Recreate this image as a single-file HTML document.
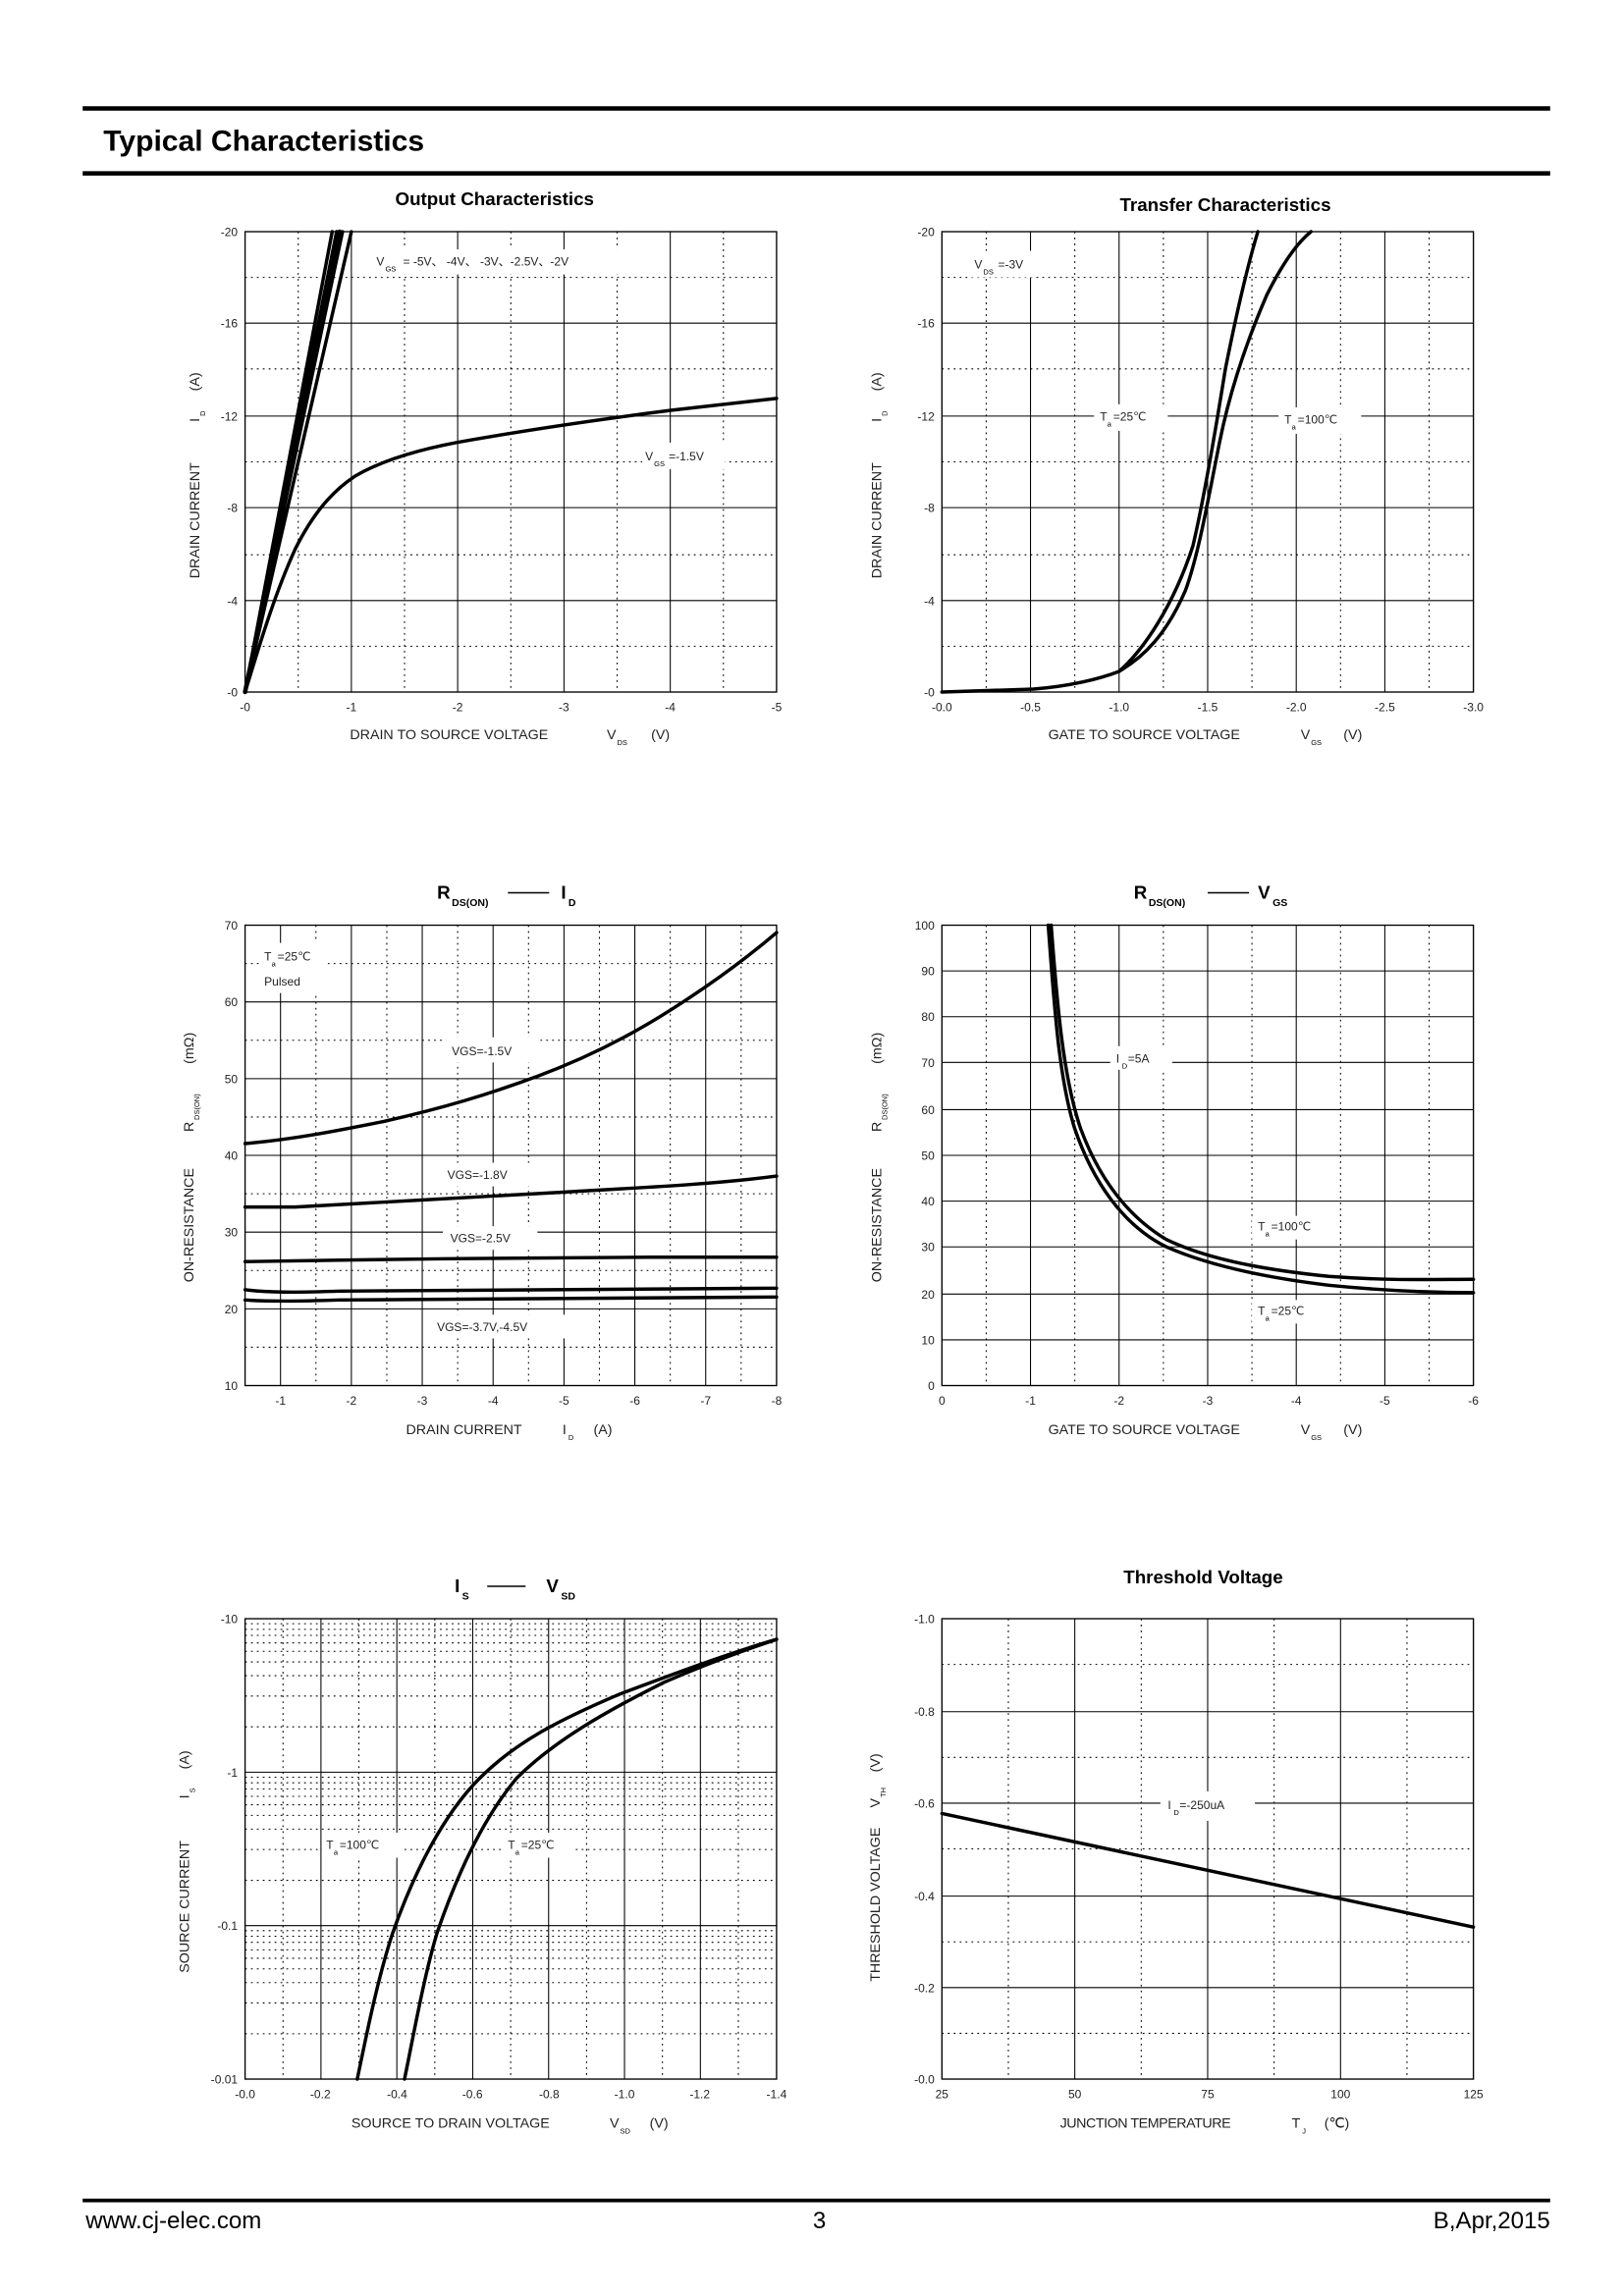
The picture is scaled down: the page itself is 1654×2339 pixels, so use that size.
<!DOCTYPE html>
<html><head><meta charset="utf-8"><style>
html,body{margin:0;padding:0;background:#fff;}
svg{display:block}
text{font-family:"Liberation Sans",Arial,sans-serif;}
.t{font-size:8px;fill:#222}
.a{font-size:9.5px;fill:#222}
.ti{font-size:12.5px;font-weight:bold;fill:#000}
.maj{stroke:#000;stroke-width:0.7;fill:none}
.min{stroke:#000;stroke-width:0.7;stroke-dasharray:1.2 2.8;fill:none}
.c{stroke:#000;stroke-width:2.3;fill:none;stroke-linejoin:round;stroke-linecap:round}
.box{stroke:#000;stroke-width:0.9;fill:none}
</style></head><body>
<svg width="1654" height="2339" viewBox="0 0 1100 1556" preserveAspectRatio="none" xmlns="http://www.w3.org/2000/svg">
<rect width="1100" height="1556" fill="#fff"/>
<!-- header -->
<rect x="56" y="72" width="994" height="3" fill="#000"/>
<text x="70" y="102" style="font-size:20px;font-weight:bold">Typical Characteristics</text>
<rect x="56" y="116" width="994" height="3" fill="#000"/>
<!-- footer -->
<rect x="56" y="1490" width="994" height="2.5" fill="#000"/>
<text x="58" y="1510" style="font-size:16px">www.cj-elec.com</text>
<text x="555" y="1510" style="font-size:16px" text-anchor="middle">3</text>
<text x="1050" y="1510" style="font-size:16px" text-anchor="end">B,Apr,2015</text>

<!-- ============ Chart 1 ============ -->
<g>
<text x="335" y="139" class="ti" text-anchor="middle">Output Characteristics</text>
<path class="min" d="M202,157V469M274,157V469M346,157V469M418,157V469M490,157V469M166,188H526M166,250H526M166,313H526M166,376H526M166,438H526"/>
<path class="maj" d="M238,157V469M310,157V469M382,157V469M454,157V469M166,219H526M166,282H526M166,344H526M166,407H526"/>
<rect x="166" y="157" width="360" height="312" class="box"/>
<g class="t" text-anchor="end"><text x="161" y="160">-20</text><text x="161" y="222">-16</text><text x="161" y="285">-12</text><text x="161" y="347">-8</text><text x="161" y="410">-4</text><text x="161" y="472">-0</text></g>
<g class="t" text-anchor="middle"><text x="166" y="482">-0</text><text x="238" y="482">-1</text><text x="310" y="482">-2</text><text x="382" y="482">-3</text><text x="454" y="482">-4</text><text x="526" y="482">-5</text></g>
<text x="237" y="501" class="a">DRAIN TO SOURCE VOLTAGE</text><text x="411" y="501" class="a">V</text><text x="418" y="505" style="font-size:5px">DS</text><text x="441" y="501" class="a">(V)</text>
<g transform="translate(135,313) rotate(-90)"><text x="-79" y="0" class="a">DRAIN CURRENT</text><text x="27" y="0" class="a">I</text><text x="31" y="4" style="font-size:5px">D</text><text x="48" y="0" class="a">(A)</text></g>
<path class="c" d="M166,469L228,157M166,469L230,157M166,469L232,157M166,469L225,157M166,469L238,157" />
<path class="c" style="stroke-width:3" d="M166,469L230,157"/>
<path class="c" d="M166,469C175,440 185,405 200,372C212,348 225,333 240,323C260,311 290,303 320,298C360,291 400,285 455,278L526,270"/>
<rect x="252" y="169" width="186" height="17" fill="#fff"/>
<text x="255" y="180" class="t">V</text><text x="261" y="184" style="font-size:5px">GS</text><text x="273" y="180" class="t">=  -5V、 -4V、 -3V、-2.5V、-2V</text>
<rect x="435" y="300" width="56" height="18" fill="#fff"/>
<text x="437" y="312" class="t">V</text><text x="443" y="316" style="font-size:5px">GS</text><text x="453" y="312" class="t">=-1.5V</text>
</g>

<!-- ============ Chart 2 ============ -->
<g>
<text x="830" y="143" class="ti" text-anchor="middle">Transfer Characteristics</text>
<path class="min" d="M668,157V469M728,157V469M788,157V469M848,157V469M908,157V469M968,157V469M638,188H998M638,250H998M638,313H998M638,376H998M638,438H998"/>
<path class="maj" d="M698,157V469M758,157V469M818,157V469M878,157V469M938,157V469M638,219H998M638,282H998M638,344H998M638,407H998"/>
<rect x="638" y="157" width="360" height="312" class="box"/>
<g class="t" text-anchor="end"><text x="633" y="160">-20</text><text x="633" y="222">-16</text><text x="633" y="285">-12</text><text x="633" y="347">-8</text><text x="633" y="410">-4</text><text x="633" y="472">-0</text></g>
<g class="t" text-anchor="middle"><text x="638" y="482">-0.0</text><text x="698" y="482">-0.5</text><text x="758" y="482">-1.0</text><text x="818" y="482">-1.5</text><text x="878" y="482">-2.0</text><text x="938" y="482">-2.5</text><text x="998" y="482">-3.0</text></g>
<text x="710" y="501" class="a">GATE TO SOURCE VOLTAGE</text><text x="881" y="501" class="a">V</text><text x="888" y="505" style="font-size:5px">GS</text><text x="910" y="501" class="a">(V)</text>
<g transform="translate(597,313) rotate(-90)"><text x="-79" y="0" class="a">DRAIN CURRENT</text><text x="27" y="0" class="a">I</text><text x="31" y="4" style="font-size:5px">D</text><text x="48" y="0" class="a">(A)</text></g>
<path class="c" d="M638,469L700,467C725,465 745,460 758,455C775,440 795,410 808,370C815,340 822,300 830,250C838,210 845,180 852,157"/>
<path class="c" d="M758,455C775,445 790,430 803,400C812,375 818,340 826,300C833,265 845,230 858,200C868,180 878,165 888,157"/>
<rect x="656" y="170" width="46" height="18" fill="#fff"/>
<text x="660" y="182" class="t">V</text><text x="666" y="186" style="font-size:5px">DS</text><text x="676" y="182" class="t">=-3V</text>
<rect x="741" y="274" width="50" height="18" fill="#fff"/>
<text x="745" y="285" class="t">T</text><text x="750" y="289" style="font-size:5px">a</text><text x="754" y="285" class="t">=25℃</text>
<rect x="866" y="276" width="56" height="18" fill="#fff"/>
<text x="870" y="287" class="t">T</text><text x="875" y="291" style="font-size:5px">a</text><text x="879" y="287" class="t">=100℃</text>
</g>

<!-- ============ Chart 3 ============ -->
<g>
<text x="296" y="609" class="ti">R</text><text x="306" y="614" style="font-size:7px;font-weight:bold">DS(ON)</text>
<path d="M344,605H372" stroke="#000" stroke-width="1"/>
<text x="380" y="609" class="ti">I</text><text x="385" y="614" style="font-size:7px;font-weight:bold">D</text>
<path class="min" d="M214,627V939M262,627V939M310,627V939M358,627V939M406,627V939M454,627V939M502,627V939M166,653H526M166,705H526M166,757H526M166,809H526M166,861H526M166,913H526"/>
<path class="maj" d="M190,627V939M238,627V939M286,627V939M334,627V939M382,627V939M430,627V939M478,627V939M166,679H526M166,731H526M166,783H526M166,835H526M166,887H526"/>
<rect x="166" y="627" width="360" height="312" class="box"/>
<g class="t" text-anchor="end"><text x="161" y="630">70</text><text x="161" y="682">60</text><text x="161" y="734">50</text><text x="161" y="786">40</text><text x="161" y="838">30</text><text x="161" y="890">20</text><text x="161" y="942">10</text></g>
<g class="t" text-anchor="middle"><text x="190" y="952">-1</text><text x="238" y="952">-2</text><text x="286" y="952">-3</text><text x="334" y="952">-4</text><text x="382" y="952">-5</text><text x="430" y="952">-6</text><text x="478" y="952">-7</text><text x="526" y="952">-8</text></g>
<text x="275" y="972" class="a">DRAIN CURRENT</text><text x="381" y="972" class="a">I</text><text x="385" y="976" style="font-size:5px">D</text><text x="402" y="972" class="a">(A)</text>
<g transform="translate(131,783) rotate(-90)"><text x="-86" y="0" class="a">ON-RESISTANCE</text><text x="16" y="0" class="a">R</text><text x="24" y="4" style="font-size:5px">DS(ON)</text><text x="62" y="0" class="a">(mΩ)</text></g>
<rect x="176" y="639" width="46" height="34" fill="#fff"/>
<text x="179" y="651" class="t">T</text><text x="184" y="655" style="font-size:5px">a</text><text x="188" y="651" class="t">=25℃</text>
<text x="179" y="668" class="t">Pulsed</text>
<path class="c" d="M166,775C200,772 230,766 260,760C300,751 330,742 365,729C400,716 430,700 455,684C480,668 505,650 526,632"/>
<path class="c" d="M166,818L200,818C260,815 320,811 380,808C430,805 480,803 526,797"/>
<path class="c" d="M166,855L230,854C300,853 380,852 440,852L526,852"/>
<path class="c" d="M166,874C180,876 200,876 230,875C300,874 400,873 526,873"/>
<path class="c" d="M166,881C180,882 200,882 230,881C300,880 400,879 526,879"/>
<rect x="302" y="703" width="64" height="17" fill="#fff"/><text x="306" y="715" class="t">VGS=-1.5V</text>
<rect x="300" y="788" width="64" height="16" fill="#fff"/><text x="303" y="799" class="t">VGS=-1.8V</text>
<rect x="300" y="831" width="64" height="16" fill="#fff"/><text x="305" y="842" class="t">VGS=-2.5V</text>
<rect x="293" y="891" width="92" height="16" fill="#fff"/><text x="296" y="902" class="t">VGS=-3.7V,-4.5V</text>
</g>

<!-- ============ Chart 4 ============ -->
<g>
<text x="768" y="609" class="ti">R</text><text x="778" y="614" style="font-size:7px;font-weight:bold">DS(ON)</text>
<path d="M818,605H846" stroke="#000" stroke-width="1"/>
<text x="852" y="609" class="ti">V</text><text x="862" y="614" style="font-size:7px;font-weight:bold">GS</text>
<path class="min" d="M668,627V939M728,627V939M788,627V939M848,627V939M908,627V939M968,627V939"/>
<path class="maj" d="M698,627V939M758,627V939M818,627V939M878,627V939M938,627V939M638,658H998M638,689H998M638,720H998M638,752H998M638,783H998M638,814H998M638,845H998M638,877H998M638,908H998"/>
<rect x="638" y="627" width="360" height="312" class="box"/>
<g class="t" text-anchor="end"><text x="633" y="630">100</text><text x="633" y="661">90</text><text x="633" y="692">80</text><text x="633" y="723">70</text><text x="633" y="755">60</text><text x="633" y="786">50</text><text x="633" y="817">40</text><text x="633" y="848">30</text><text x="633" y="880">20</text><text x="633" y="911">10</text><text x="633" y="942">0</text></g>
<g class="t" text-anchor="middle"><text x="638" y="952">0</text><text x="698" y="952">-1</text><text x="758" y="952">-2</text><text x="818" y="952">-3</text><text x="878" y="952">-4</text><text x="938" y="952">-5</text><text x="998" y="952">-6</text></g>
<text x="710" y="972" class="a">GATE TO SOURCE VOLTAGE</text><text x="881" y="972" class="a">V</text><text x="888" y="976" style="font-size:5px">GS</text><text x="910" y="972" class="a">(V)</text>
<g transform="translate(597,783) rotate(-90)"><text x="-86" y="0" class="a">ON-RESISTANCE</text><text x="16" y="0" class="a">R</text><text x="24" y="4" style="font-size:5px">DS(ON)</text><text x="62" y="0" class="a">(mΩ)</text></g>
<path class="c" d="M712,627C716,680 720,730 732,765C745,800 765,825 790,840C815,852 850,860 900,865C940,868 970,867 998,867"/>
<path class="c" d="M710,627C714,680 717,730 728,765C740,800 760,830 790,845C815,856 850,865 900,871C940,875 970,876 998,876"/>
<rect x="752" y="709" width="42" height="16" fill="#fff"/>
<text x="756" y="720" class="t">I</text><text x="760" y="724" style="font-size:5px">D</text><text x="764" y="720" class="t">=5A</text>
<rect x="848" y="824" width="56" height="16" fill="#fff"/>
<text x="852" y="834" class="t">T</text><text x="857" y="838" style="font-size:5px">a</text><text x="861" y="834" class="t">=100℃</text>
<rect x="848" y="881" width="50" height="16" fill="#fff"/>
<text x="852" y="891" class="t">T</text><text x="857" y="895" style="font-size:5px">a</text><text x="861" y="891" class="t">=25℃</text>
</g>

<!-- ============ Chart 5 ============ -->
<g>
<text x="308" y="1079" class="ti">I</text><text x="313" y="1084" style="font-size:7px;font-weight:bold">S</text>
<path d="M330,1075H356" stroke="#000" stroke-width="1"/>
<text x="370" y="1079" class="ti">V</text><text x="380" y="1084" style="font-size:7px;font-weight:bold">SD</text>
<path class="min" d="M191.7,1097V1409M243.1,1097V1409M294.5,1097V1409M345.9,1097V1409M397.3,1097V1409M448.7,1097V1409M500.1,1097V1409
M166,1100.4H526M166,1104.2H526M166,1108.3H526M166,1113.4H526M166,1119.1H526M166,1126.3H526M166,1135.6H526M166,1149.4H526M166,1170.3H526
M166,1204.4H526M166,1208.2H526M166,1212.3H526M166,1217.4H526M166,1223.1H526M166,1230.3H526M166,1239.6H526M166,1253.4H526M166,1274.3H526
M166,1308.4H526M166,1312.2H526M166,1316.3H526M166,1321.4H526M166,1327.1H526M166,1334.3H526M166,1343.6H526M166,1357.4H526M166,1378.3H526"/>
<path class="maj" d="M217.4,1097V1409M268.8,1097V1409M320.2,1097V1409M371.6,1097V1409M423,1097V1409M474.4,1097V1409M166,1201H526M166,1305H526"/>
<rect x="166" y="1097" width="360" height="312" class="box"/>
<g class="t" text-anchor="end"><text x="161" y="1100">-10</text><text x="161" y="1204">-1</text><text x="161" y="1308">-0.1</text><text x="161" y="1412">-0.01</text></g>
<g class="t" text-anchor="middle"><text x="166" y="1422">-0.0</text><text x="217" y="1422">-0.2</text><text x="269" y="1422">-0.4</text><text x="320" y="1422">-0.6</text><text x="372" y="1422">-0.8</text><text x="423" y="1422">-1.0</text><text x="474" y="1422">-1.2</text><text x="526" y="1422">-1.4</text></g>
<text x="238" y="1442" class="a">SOURCE TO DRAIN VOLTAGE</text><text x="413" y="1442" class="a">V</text><text x="420" y="1446" style="font-size:5px">SD</text><text x="440" y="1442" class="a">(V)</text>
<g transform="translate(128,1253) rotate(-90)"><text x="-84" y="0" class="a">SOURCE CURRENT</text><text x="34" y="0" class="a">I</text><text x="38" y="4" style="font-size:5px">S</text><text x="54" y="0" class="a">(A)</text></g>
<path class="c" d="M242,1409C248,1380 256,1340 266,1310C280,1270 300,1230 325,1205C350,1180 380,1165 420,1148C460,1133 495,1120 526,1111"/>
<path class="c" d="M274,1409C280,1380 287,1340 296,1310C308,1275 325,1235 350,1205C375,1180 410,1160 450,1140C480,1127 505,1118 526,1111"/>
<rect x="218" y="1242" width="54" height="17" fill="#fff"/>
<text x="221" y="1253" class="t">T</text><text x="226" y="1257" style="font-size:5px">a</text><text x="230" y="1253" class="t">=100℃</text>
<rect x="340" y="1242" width="48" height="17" fill="#fff"/>
<text x="344" y="1253" class="t">T</text><text x="349" y="1257" style="font-size:5px">a</text><text x="353" y="1253" class="t">=25℃</text>
</g>

<!-- ============ Chart 6 ============ -->
<g>
<text x="815" y="1073" class="ti" text-anchor="middle">Threshold Voltage</text>
<path class="min" d="M683,1097V1409M773,1097V1409M863,1097V1409M953,1097V1409M638,1128H998M638,1191H998M638,1253H998M638,1316H998M638,1378H998"/>
<path class="maj" d="M728,1097V1409M818,1097V1409M908,1097V1409M638,1160H998M638,1222H998M638,1285H998M638,1347H998"/>
<rect x="638" y="1097" width="360" height="312" class="box"/>
<g class="t" text-anchor="end"><text x="633" y="1100">-1.0</text><text x="633" y="1163">-0.8</text><text x="633" y="1225">-0.6</text><text x="633" y="1288">-0.4</text><text x="633" y="1350">-0.2</text><text x="633" y="1412">-0.0</text></g>
<g class="t" text-anchor="middle"><text x="638" y="1422">25</text><text x="728" y="1422">50</text><text x="818" y="1422">75</text><text x="908" y="1422">100</text><text x="998" y="1422">125</text></g>
<text x="718" y="1442" class="a" style="letter-spacing:-0.3px">JUNCTION TEMPERATURE</text><text x="875" y="1442" class="a">T</text><text x="882" y="1446" style="font-size:5px">J</text><text x="897" y="1442" class="a">(℃)</text>
<g transform="translate(596,1253) rotate(-90)"><text x="-90" y="0" class="a">THRESHOLD VOLTAGE</text><text x="28" y="0" class="a">V</text><text x="35" y="4" style="font-size:5px">TH</text><text x="52" y="0" class="a">(V)</text></g>
<rect x="786" y="1214" width="64" height="20" fill="#fff"/>
<text x="791" y="1226" class="t">I</text><text x="795" y="1230" style="font-size:5px">D</text><text x="799" y="1226" class="t">=-250uA</text>
<path class="c" d="M638,1229L998,1306"/>
</g>
</svg>
</body></html>
